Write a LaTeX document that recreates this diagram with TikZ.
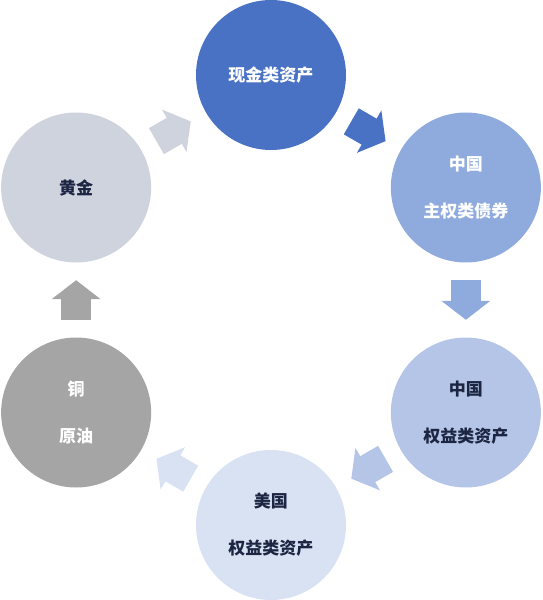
\documentclass[tikz,border=0pt]{standalone}
\usepackage{fontspec}
\usepackage{xcolor}
\usepackage{tikz}
\usetikzlibrary{arrows.meta,calc}
\newfontfamily\cjk{Noto Sans CJK SC}

\definecolor{cashblue}{HTML}{4A72C4}
\definecolor{bondblue}{HTML}{8FAADC}
\definecolor{cneqblue}{HTML}{B4C5E7}
\definecolor{useqblue}{HTML}{D9E2F3}
\definecolor{metalgray}{HTML}{A5A5A5}
\definecolor{goldgray}{HTML}{CFD3DE}
\definecolor{navytext}{HTML}{1C2541}

\begin{document}
\begin{tikzpicture}[
  x=1pt, y=1pt,
  asset/.style={circle, minimum size=150pt, inner sep=0pt, align=center,
    font=\cjk\bfseries\fontsize{17}{47}\selectfont},
  flow/.style={line width=30pt, -{Triangle[length=19pt, width=48pt]},
    shorten <=17.5pt, shorten >=17.5pt},
]
  \useasboundingbox (-271,-300) rectangle (271,300);

  \node[asset, fill=cashblue, text=white] (cash) at (90:225) {现金类资产};
  \node[asset, fill=bondblue, text=white] (cnbond) at (30:225) {中国\\主权类债券};
  \node[asset, fill=cneqblue, text=navytext] (cneq) at (-30:225) {中国\\权益类资产};
  \node[asset, fill=useqblue, text=navytext] (useq) at (-90:225) {美国\\权益类资产};
  \node[asset, fill=metalgray, text=white] (metal) at (-150:225) {铜\\原油};
  \node[asset, fill=goldgray, text=navytext] (gold) at (150:225) {黄金};

  % Rotation cycle
  \draw[flow, cashblue] (cash) -- (cnbond);
  \draw[flow, bondblue] (cnbond) -- (cneq);
  \draw[flow, cneqblue] (cneq) -- (useq);
  \draw[flow, useqblue] (useq) -- (metal);
  \draw[flow, metalgray] (metal) -- (gold);
  \draw[flow, goldgray] (gold) -- (cash);
\end{tikzpicture}
\end{document}
